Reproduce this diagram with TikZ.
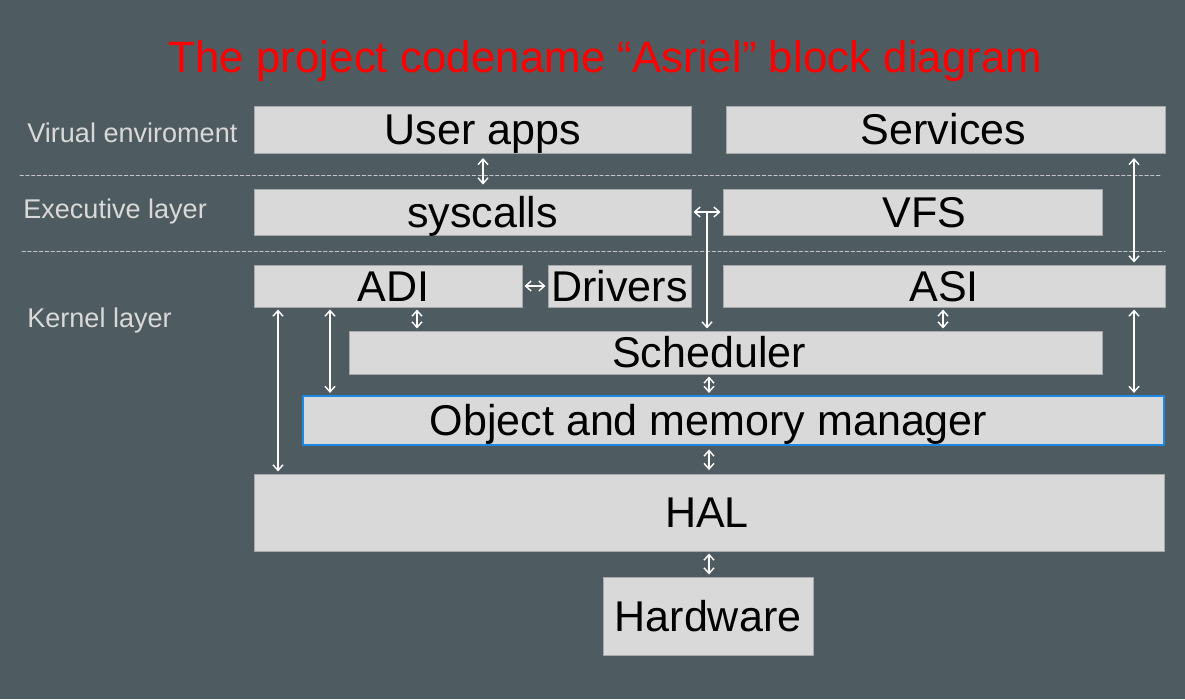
\documentclass[tikz,border=0pt]{standalone}
\usepackage{fontspec}
\setmainfont{Liberation Sans}
\usetikzlibrary{arrows.meta}
\definecolor{bgc}{HTML}{4E5B61}
\definecolor{boxc}{HTML}{D9D9D9}
\definecolor{edgec}{HTML}{A7AAAC}
\definecolor{bluec}{HTML}{1E88E5}
% text in a box, moved sideways by #1
\newcommand\shifted[2]{\makebox[0pt]{\hspace*{#1}\hspace*{#1}#2}}
\tikzset{
  blk/.style={draw=edgec, line width=0.5pt, fill=boxc, inner sep=0pt,
    text height=17.5pt, text depth=0pt, font=\fontsize{24.5}{28}\selectfont},
  link/.style={white, line width=0.8pt, <->, shorten >=1.2pt, shorten <=1.2pt},
  layer/.style={anchor=base west, inner sep=0pt, text=boxc, font=\fontsize{15.4}{18}\selectfont},
  sep/.style={boxc!85!bgc, line width=0.4pt, dash pattern=on 2pt off 1.3pt}
}
\begin{document}
\begin{tikzpicture}[x=0.02cm, y=-0.02cm, >={Straight Barb[length=3.2pt,width=5.7pt]}, line join=round, line cap=round]
  \fill[bgc] (0,0) rectangle (1185,699);
  \useasboundingbox (0,0) rectangle (1185,699);
  \node[text=red, anchor=base, inner sep=0pt, font=\fontsize{25}{30}\selectfont] (title) at (605.5,73)
    {The project codename “Asriel” block diagram};
  % layers
  \node[layer] (venv) at (27,143) {Virual enviroment};
  \node[layer] (exec) at (23,218) {Executive layer};
  \node[layer] (kern) at (27,327) {Kernel layer};
  \draw[sep] (20,175) -- (1160,175);
  \draw[sep] (22,251) -- (1165,251);
  % blocks
  \node[blk, minimum width=8.74cm, minimum height=0.94cm] (user) at (472.5,129.5) {\shifted{0.21cm}{User apps}};
  \node[blk, minimum width=8.78cm, minimum height=0.94cm] (services) at (945.5,129.5) {\shifted{-0.04cm}{Services}};
  \node[blk, minimum width=8.74cm, minimum height=0.92cm] (syscalls) at (472.5,212) {\shifted{0.2cm}{syscalls}};
  \node[blk, minimum width=7.58cm, minimum height=0.92cm] (vfs) at (912.5,212) {\shifted{0.24cm}{VFS}};
  \node[blk, minimum width=5.36cm, minimum height=0.84cm] (adi) at (388,286) {\shifted{0.11cm}{ADI}};
  \node[blk, minimum width=2.86cm, minimum height=0.84cm] (drivers) at (619.5,286) {Drivers};
  \node[blk, minimum width=8.84cm, minimum height=0.84cm] (asi) at (944,286) {ASI};
  \node[blk, minimum width=15.06cm, minimum height=0.86cm] (sched) at (725.5,352.5) {\shifted{-0.33cm}{Scheduler}};
  \node[blk, draw=bluec, line width=1.1pt, minimum width=17.22cm, minimum height=0.98cm] (omm) at (733.5,420.5)
    {\shifted{-0.5cm}{Object and memory manager}};
  \node[blk, minimum width=18.22cm, minimum height=1.54cm] (hal) at (709.5,512.5) {\shifted{-0.05cm}{HAL}};
  \node[blk, minimum width=4.2cm, minimum height=1.56cm] (hw) at (708,616) {Hardware};
  % links
  \draw[link, shorten >=2.3pt, shorten <=2.6pt] (483,0 |- user.south) -- (483,0 |- syscalls.north);
  \draw[link] (syscalls.east) -- coordinate (sv) (vfs.west);
  \draw[link, ->, shorten <=0pt] (sv) -- (sv |- sched.north);
  \draw[link, shorten <=2.6pt] (1134,0 |- services.south) -- (1134,0 |- asi.north);
  \draw[link] (adi.east) -- (drivers.west);
  \draw[link] (417,0 |- adi.south) -- (417,0 |- sched.north);
  \draw[link] (278,0 |- adi.south) -- (278,0 |- hal.north);
  \draw[link] (330,0 |- adi.south) -- (330,0 |- omm.north);
  \draw[link] (943,0 |- asi.south) -- (943,0 |- sched.north);
  \draw[link] (1134,0 |- asi.south) -- (1134,0 |- omm.north);
  \draw[link] (709,0 |- sched.south) -- (709,0 |- omm.north);
  \draw[link, shorten <=2pt, shorten >=2pt] (709,0 |- omm.south) -- (709,0 |- hal.north);
  \draw[link] (709,0 |- hal.south) -- (709,0 |- hw.north);
\end{tikzpicture}
\end{document}
